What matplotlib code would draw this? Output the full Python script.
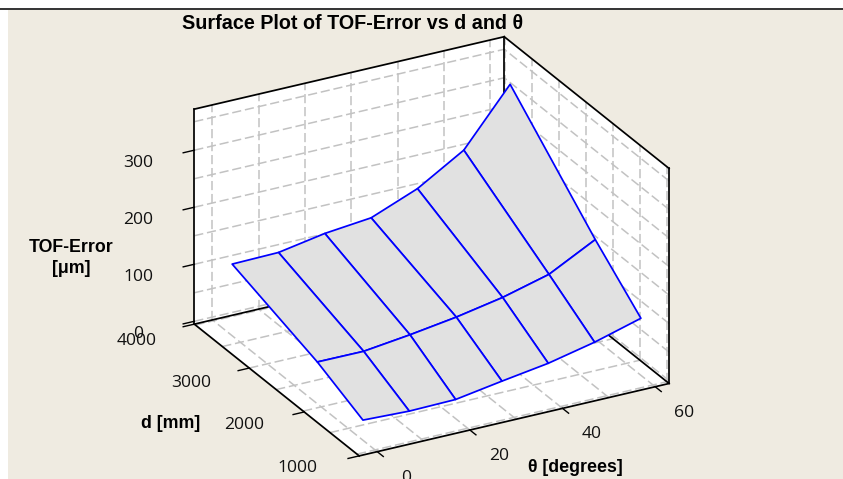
import numpy as np
import matplotlib
matplotlib.use("Agg")
import matplotlib.pyplot as plt
from matplotlib.patches import Rectangle
from mpl_toolkits.mplot3d import proj3d
from mpl_toolkits.mplot3d.art3d import Poly3DCollection

# ---- data ----
theta_values = [0, 10, 20, 30, 40, 50, 60]
d_values = [1260, 2090, 3640]
err_d1 = [30.3, 27.1, 28.5, 41.7, 54, 72, 95]
err_d2 = [68.3, 68, 78, 90, 105.5, 127, 169]
err_d3 = [120.6, 122, 136.4, 144.8, 177, 225.5, 322]

theta_ticks = [0, 20, 40, 60]
d_ticks = [1000, 2000, 3000, 4000]
z_ticks = [0, 100, 200, 300]
theta_grid = [0, 10, 20, 30, 40, 50, 60]
d_grid = [1040, 1530, 2020, 2510, 3000, 3490, 3980]
z_grid = [0, 50, 100, 150, 200, 250, 300, 350]
theta_lim = (-3.9, 63)
d_lim = (1000, 4000)
z_lim = (-5, 372)

BG = "#EFEBE1"
GRID = "#C2C2C2"
BLUE = "#0000FF"
SURF = "#E1E1E1"
TICKFONT = "Open Sans"
LABFONT = "Liberation Sans"

W, H = 843, 479
fig = plt.figure(figsize=(W / 100, H / 100), dpi=100, facecolor="white")
fig.add_artist(Rectangle((8 / W, 0), (W - 8) / W, (H - 9) / H, transform=fig.transFigure,
                         facecolor=BG, edgecolor="none", zorder=-10))
fig.add_artist(plt.Line2D([0, 1], [1 - 9 / H, 1 - 9 / H], transform=fig.transFigure,
                          color="#333333", lw=1.4, zorder=-9))

L = 532.7
cx, cy = 424.5, 253.5
ax = fig.add_axes([(cx - L / 2) / W, (H - cy - L / 2) / H, L / W, L / H],
                  projection="3d", proj_type="ortho", computed_zorder=False)
ax.view_init(elev=25.6, azim=-118.4)
ax.set_box_aspect((352.3, 346.6, 238.4))
ax.set_xlim(*theta_lim, view_margin=0)
ax.set_ylim(*d_lim, view_margin=0)
ax.set_zlim(*z_lim, view_margin=0)
ax.set_axis_off()
ax.patch.set_visible(False)

t0, t1 = theta_lim
d0, d1 = d_lim
z0, z1 = z_lim

# white walls and floor
walls = [
    [(t0, d0, z0), (t1, d0, z0), (t1, d1, z0), (t0, d1, z0)],
    [(t0, d1, z0), (t1, d1, z0), (t1, d1, z1), (t0, d1, z1)],
    [(t1, d0, z0), (t1, d1, z0), (t1, d1, z1), (t1, d0, z1)],
]
ax.add_collection3d(Poly3DCollection(walls, facecolor="white", edgecolor="none", zorder=0))

# dashed grid
gkw = dict(color=GRID, lw=1.1, ls=(0, (6, 2.5)), zorder=1)
for t in theta_grid:
    ax.plot([t, t], [d1, d1], [z0, z1], **gkw)
    ax.plot([t, t], [d0, d1], [z0, z0], **gkw)
for d in d_grid:
    ax.plot([t1, t1], [d, d], [z0, z1], **gkw)
    ax.plot([t0, t1], [d, d], [z0, z0], **gkw)
for z in z_grid:
    ax.plot([t0, t1], [d1, d1], [z, z], **gkw)
    ax.plot([t1, t1], [d0, d1], [z, z], **gkw)

# black box edges
bkw = dict(color="black", lw=1.25, zorder=2, solid_capstyle="projecting")
edges = [
    ((t0, t1), (d0, d0), (z0, z0)), ((t0, t0), (d0, d1), (z0, z0)),
    ((t0, t1), (d1, d1), (z0, z0)), ((t1, t1), (d0, d1), (z0, z0)),
    ((t0, t0), (d1, d1), (z0, z1)), ((t1, t1), (d1, d1), (z0, z1)),
    ((t1, t1), (d0, d0), (z0, z1)),
    ((t0, t1), (d1, d1), (z1, z1)), ((t1, t1), (d0, d1), (z1, z1)),
]
for xs, ys, zs in edges:
    ax.plot(xs, ys, zs, **bkw)

# tick marks
tkw = dict(color="black", lw=1.0, zorder=2)
for z in z_ticks:
    ax.plot([t0, t0 - 2.4], [d1, d1], [z, z], **tkw)
for d in d_ticks:
    ax.plot([t0, t0 - 2.4], [d, d], [z0, z0], **tkw)
for t in theta_ticks:
    ax.plot([t, t], [d0, d0 - 110], [z0, z0], **tkw)

# surface
T, D = np.meshgrid(theta_values, d_values)
Z = np.array([err_d1, err_d2, err_d3])
ax.plot_surface(T, D, Z, rstride=1, cstride=1, color=SURF, shade=False,
                edgecolor=BLUE, linewidth=1.25, zorder=3, antialiased=True)


# tick labels, offset in pixels from the projected tick position
def label(text, x, y, z, dx, dy):
    px, py, _ = proj3d.proj_transform(x, y, z, ax.get_proj())
    ax.annotate(text, xy=(px, py), xycoords="data", xytext=(dx, -dy),
                textcoords="offset pixels", ha="center", va="center",
                fontsize=12.6, family=TICKFONT, color="#111111", annotation_clip=False)


for z in z_ticks:
    label(str(z), t0, d1, z, -56, 13)
d_label_offsets = [(-62, 12), (-60, 13), (-58, 15), (-58, 17)]
for d, (ox, oy) in zip(d_ticks, d_label_offsets):
    label(str(d), t0, d, z0, ox, oy)
for t in theta_ticks:
    label(str(t), t, d0, z0, 29, 26)

# titles and axis names
def ftext(x, y, s, size):
    fig.text(x / W, 1 - y / H, s, ha="center", va="center", fontsize=size, fontweight="bold",
             family=LABFONT, color="black", linespacing=1.35)


ftext(353, 23.5, "Surface Plot of TOF-Error vs d and θ", 14.2)
ftext(71, 258, "TOF-Error\n[μm]", 12.8)
ftext(170.5, 423, "d [mm]", 12.8)
ftext(575, 468, "θ [degrees]", 12.8)

fig.savefig("out.png", dpi=100, facecolor=fig.get_facecolor())
